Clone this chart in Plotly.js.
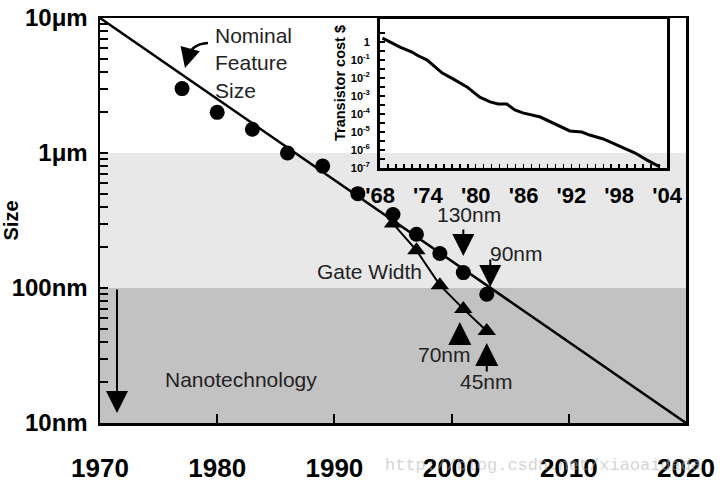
<!DOCTYPE html>
<html><head><meta charset="utf-8">
<script src="https://cdn.plot.ly/plotly-3.0.1.min.js"></script>
<style>html,body{margin:0;padding:0;background:#fff}#chart{width:720px;height:483px}</style>
</head><body><div id="chart"></div>
<script>
// Nominal feature size (nm)
const featureYears = [1977, 1980, 1983, 1986, 1989, 1992, 1995, 1997, 1999, 2001, 2003];
const featureSizes = [3000, 2000, 1500, 1000, 800, 500, 350, 250, 180, 130, 90];
// Gate width (nm)
const gateYears = [1995, 1997, 1999, 2001, 2003];
const gateSizes = [300, 190, 105, 70, 48];
// Trend line of nominal feature size
const trendYears = [1970, 2020];
const trendSizes = [10000, 10];
// Inset: transistor cost ($)
const costYears = [1968.3, 1970.5, 1972, 1972.6, 1973.9, 1975.8, 1977.2, 1978.9, 1980.5, 1981.8, 1982.8, 1983.9, 1984.9, 1985.9, 1988.1, 1989.6, 1991.8, 1993.3, 1994.3, 1996, 1997.7, 2000, 2001.5, 2003.1];
const costValues = [1.66, 0.52, 0.28, 0.19, 0.1, 0.019, 0.0087, 0.0032, 8.7e-4, 4.7e-4, 3.6e-4, 3.6e-4, 1.7e-4, 1.15e-4, 6.8e-5, 3.2e-5, 1.15e-5, 1.0e-5, 6.8e-6, 4.1e-6, 1.9e-6, 6.8e-7, 2.75e-7, 1.15e-7];
// Tick labels
const yearTicks = [1970, 1980, 1990, 2000, 2010, 2020];
const sizeTickVals = [10, 100, 1000, 10000];
const sizeTickText = ['10nm', '100nm', '1\u03bcm', '10\u03bcm'];
const sizeMinorVals = [20,30,40,50,60,70,80,90,200,300,400,500,600,700,800,900,2000,3000,4000,5000,6000,7000,8000,9000];
const costYearTicks = [1968, 1974, 1980, 1986, 1992, 1998, 2004];
const costYearText = ["'68", "'74", "'80", "'86", "'92", "'98", "'04"];
const costTickVals = [1e-7, 1e-6, 1e-5, 1e-4, 1e-3, 1e-2, 1e-1, 1];
const costTickText = ['10<sup>-7</sup>', '10<sup>-6</sup>', '10<sup>-5</sup>', '10<sup>-4</sup>', '10<sup>-3</sup>', '10<sup>-2</sup>', '10<sup>-1</sup>', '1'];
const costMinorVals = [3e-7, 3e-6, 3e-5, 3e-4, 3e-3, 3e-2, 3e-1, 3];
// Region bounds (nm)
const nanoTop = 100, microTop = 1000, sizeMin = 10;

const NARROW = '"Liberation Sans Narrow", "Arial Narrow", "Liberation Sans", Arial, sans-serif';
const SANS = '"Liberation Sans", Arial, sans-serif';

const traces = [
  {x: trendYears, y: trendSizes, mode: 'lines', line: {color: '#000', width: 2.5}, hoverinfo: 'skip', showlegend: false},
  {x: gateYears, y: gateSizes, mode: 'lines+markers', line: {color: '#000', width: 2},
   marker: {symbol: 'triangle-up', size: 16, color: '#000'}, showlegend: false},
  {x: featureYears, y: featureSizes, mode: 'markers', marker: {symbol: 'circle', size: 15, color: '#000'}, showlegend: false},
  {x: costYears, y: costValues, xaxis: 'x2', yaxis: 'y2', mode: 'lines', line: {color: '#000', width: 3}, showlegend: false}
];

const txt = {family: SANS, size: 21, color: '#222'};
function label(text, x, ylog, extra) {
  return Object.assign({text: text, x: x, y: ylog, xref: 'x', yref: 'y', showarrow: false, font: txt}, extra || {});
}
function arrow(x, ylog, ay, size) {
  return {text: '', x: x, y: ylog, xref: 'x', yref: 'y', showarrow: true, ax: 0, ay: ay,
          arrowhead: 2, arrowsize: size, arrowwidth: 2, arrowcolor: '#000'};
}

const layout = {
  width: 720, height: 483,
  margin: {l: 100, r: 34, t: 18, b: 60},
  paper_bgcolor: '#fff', plot_bgcolor: 'rgba(0,0,0,0)',
  showlegend: false,
  xaxis: {range: [1970, 2020], tickvals: yearTicks, ticks: 'inside', ticklen: 9, tickwidth: 2, tickcolor: '#000',
          showline: true, linecolor: '#000', linewidth: 2.5, mirror: true, showgrid: false, zeroline: false,
          tickfont: {family: NARROW, size: 26, weight: 'bold', color: '#000'}, ticklabelstandoff: 20},
  yaxis: {type: 'log', range: [1, 4], tickvals: sizeTickVals, ticktext: sizeTickText, ticks: 'inside', ticklen: 8, tickwidth: 2,
          tickcolor: '#000', minor: {tickvals: sizeMinorVals, ticks: 'inside', ticklen: 8, tickwidth: 2, tickcolor: '#000'},
          showline: true, linecolor: '#000', linewidth: 2.5, mirror: true, showgrid: false, zeroline: false,
          tickfont: {family: NARROW, size: 24, weight: 'bold', color: '#000'}, ticklabelstandoff: 5,
          title: {text: 'Size', font: {family: SANS, size: 20, weight: 'bold', color: '#000'}, standoff: 6}},
  xaxis2: {domain: [0.478, 0.9676], anchor: 'y2', range: [1968, 2004], tickvals: costYearTicks, ticktext: costYearText,
           ticks: 'inside', ticklen: 4, tickwidth: 1.5, tickcolor: '#000',
           minor: {dtick: 1, ticks: 'inside', ticklen: 4, tickwidth: 1.5, tickcolor: '#000'},
           showline: true, linecolor: '#000', linewidth: 3, mirror: true, showgrid: false, zeroline: false,
           tickfont: {family: NARROW, size: 22, weight: 'bold', color: '#000'}, ticklabelstandoff: 6},
  yaxis2: {domain: [0.6296, 0.9975], anchor: 'x2', type: 'log', range: [-7, 1.28], tickvals: costTickVals, ticktext: costTickText,
           ticks: 'inside', ticklen: 5, tickwidth: 2, tickcolor: '#000',
           minor: {tickvals: costMinorVals, ticks: 'inside', ticklen: 5, tickwidth: 2, tickcolor: '#000'},
           showline: true, linecolor: '#000', linewidth: 3, mirror: true, showgrid: false, zeroline: false,
           tickfont: {family: SANS, size: 11, weight: 'bold', color: '#000'}, ticklabelstandoff: 5},
  shapes: [
    {type: 'rect', xref: 'x', yref: 'y', x0: 1970, x1: 2020, y0: nanoTop, y1: microTop, fillcolor: '#e8e8e8', line: {width: 0}, layer: 'below'},
    {type: 'rect', xref: 'x', yref: 'y', x0: 1970, x1: 2020, y0: sizeMin, y1: nanoTop, fillcolor: '#c2c2c2', line: {width: 0}, layer: 'below'},
    {type: 'path', xref: 'paper', yref: 'paper', path: 'M 0.1843 0.9383 Q 0.1536 0.9358 0.1485 0.8963', line: {color: '#000', width: 2.5}}
  ],
  annotations: [
    {text: 'http://blog.csdn.net/xiaoaidada', xref: 'paper', yref: 'paper', x: 0.483, y: -0.104, xanchor: 'left', yanchor: 'middle',
     showarrow: false, font: {family: '"Liberation Mono", "DejaVu Sans Mono", monospace', size: 17, color: 'rgba(175,175,175,0.55)'}},
    {text: 'Transistor cost $', xref: 'paper', yref: 'paper', x: 0.4096, y: 0.8395, xanchor: 'center', yanchor: 'middle',
     textangle: -90, showarrow: false, font: {family: SANS, size: 14.5, weight: 'bold', color: '#000'}},
    label('Nominal<br>Feature<br>Size', 1979.6, 3.97, {xanchor: 'left', yanchor: 'top', align: 'left'}),
    {text: '', xref: 'paper', yref: 'paper', x: 0.145, y: 0.8765, showarrow: true, ax: 3, ay: -11,
     arrowhead: 2, arrowsize: 1.6, arrowwidth: 2.5, arrowcolor: '#000'},
    label('Gate Width', 1993.0, 2.119),
    label('130nm', 2001.5, 2.548),
    label('90nm', 2005.5, 2.259),
    label('70nm', 1999.4, 1.504),
    label('45nm', 2003.0, 1.311),
    label('Nanotechnology', 1982.0, 1.319),
    arrow(2001, 2.237, -28, 2.2),
    arrow(2003.3, 2.007, -29, 2.2),
    arrow(2000.7, 1.748, 16, 2.3),
    arrow(2003, 1.593, 30, 2.3),
    arrow(1971.45, 1.074, -125, 2.2)
  ]
};

Plotly.newPlot('chart', traces, layout, {displayModeBar: false, staticPlot: true});
</script>
</body></html>
